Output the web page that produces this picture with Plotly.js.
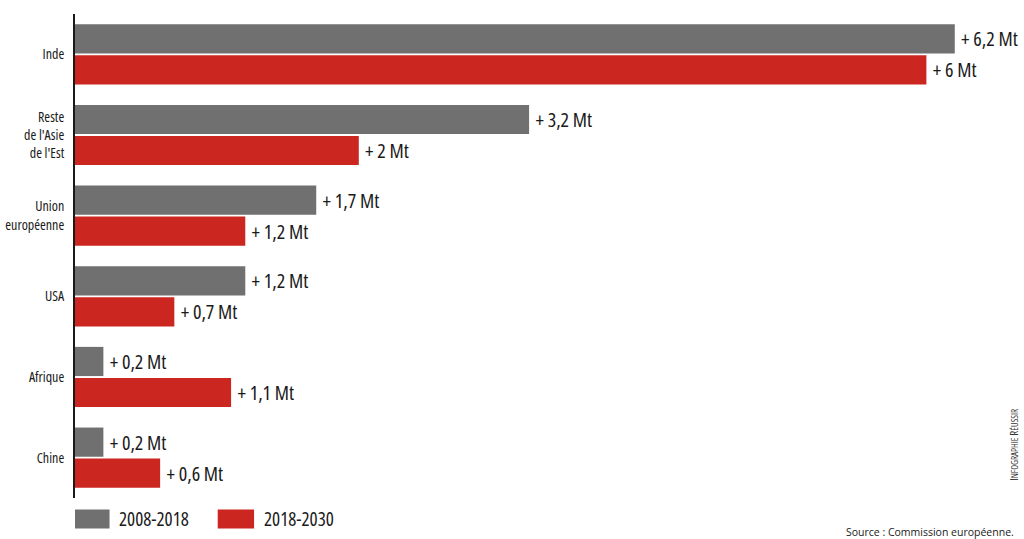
<!DOCTYPE html>
<html>
<head>
<meta charset="utf-8">
<script src="https://cdn.plot.ly/plotly-3.0.1.min.js"></script>
<style>
  html, body { margin: 0; padding: 0; background: #fff; }
  #chart { width: 1024px; height: 539px; }
  svg text { font-stretch: condensed; }
</style>
</head>
<body>
<div id="chart"></div>
<script>
// régions (de haut en bas) et hausses de consommation en Mt
const regions = ['Inde', 'Reste<br>de l\'Asie<br>de l\'Est', 'Union<br>européenne', 'USA', 'Afrique', 'Chine'];
const hausse2008_2018 = [6.2, 3.2, 1.7, 1.2, 0.2, 0.2];
const hausse2018_2030 = [6.0, 2.0, 1.2, 0.7, 1.1, 0.6];
const periodes = ['2008-2018', '2018-2030'];

const grey = '#717070';
const red = '#cc2620';
const condensed = '"Open Sans", "DejaVu Sans", sans-serif';
const labelFont = { family: condensed, size: 20, weight: 500, color: '#1a1a1a' };

function fmt(v) {
    // petite espace devant pour décoller l'étiquette de la barre
    return '\u2009+ ' + String(v).replace('.', ',') + ' Mt';
}

const traces = [
    {
        type: 'bar', orientation: 'h', name: periodes[0],
        y: regions, x: hausse2008_2018,
        marker: { color: grey },
        text: hausse2008_2018.map(fmt), textposition: 'outside',
        textfont: labelFont, cliponaxis: false, hoverinfo: 'none'
    },
    {
        type: 'bar', orientation: 'h', name: periodes[1],
        y: regions, x: hausse2018_2030,
        marker: { color: red },
        text: hausse2018_2030.map(fmt), textposition: 'outside',
        textfont: labelFont, cliponaxis: false, hoverinfo: 'none'
    }
];

const layout = {
    width: 1024, height: 539,
    margin: { l: 75, r: 40, t: 14, b: 41 },
    paper_bgcolor: '#fff', plot_bgcolor: '#fff',
    showlegend: false,
    barmode: 'group', bargap: 0.23, bargroupgap: 0.06,
    font: { family: condensed, color: '#1a1a1a' },
    xaxis: {
        range: [0, 909 / 141.9],
        showgrid: false, zeroline: false, showticklabels: false, showline: false, ticks: ''
    },
    yaxis: {
        autorange: 'reversed',
        showgrid: false, zeroline: false,
        showline: true, linecolor: '#1a1a1a', linewidth: 2,
        ticks: '', ticklabelstandoff: 6,
        tickfont: { family: condensed, size: 14, weight: 500, color: '#1a1a1a' }
    },
    shapes: [
        { type: 'rect', xref: 'paper', yref: 'paper', x0: 0, x1: 0.038, y0: -0.063, y1: -0.024, fillcolor: grey, line: { width: 0 } },
        { type: 'rect', xref: 'paper', yref: 'paper', x0: 0.157, x1: 0.197, y0: -0.063, y1: -0.024, fillcolor: red, line: { width: 0 } }
    ],
    annotations: [
        { xref: 'paper', yref: 'paper', x: 0.046, y: -0.044, xanchor: 'left', yanchor: 'middle',
          text: periodes[0], showarrow: false, font: { size: 19, color: '#1a1a1a' } },
        { xref: 'paper', yref: 'paper', x: 0.206, y: -0.044, xanchor: 'left', yanchor: 'middle',
          text: periodes[1], showarrow: false, font: { size: 19, color: '#1a1a1a' } },
        { xref: 'paper', yref: 'paper', x: 1.035, y: -0.071, xanchor: 'right', yanchor: 'middle',
          text: '<span style="font-stretch:normal">Source : Commission européenne.</span>', showarrow: false,
          font: { family: '"Open Sans", "DejaVu Sans", sans-serif', size: 10.5, color: '#1a1a1a' } },
        { xref: 'paper', yref: 'paper', x: 1.033, y: 0.11, xanchor: 'center', yanchor: 'middle',
          textangle: -90, showarrow: false,
          text: 'I<span style="font-size:9px">NFOGRAPHIE</span> R<span style="font-size:9px">ÉUSSIR</span>',
          font: { family: condensed, size: 11, color: '#333' } }
    ]
};

Plotly.newPlot('chart', traces, layout, { displayModeBar: false, staticPlot: true });
</script>
</body>
</html>
